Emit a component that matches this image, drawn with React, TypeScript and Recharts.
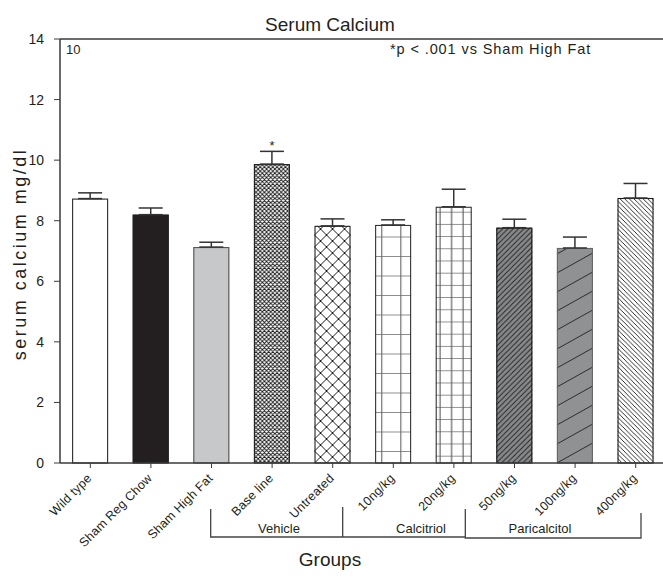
import React from "react";
import { BarChart, Bar, XAxis, YAxis, ErrorBar, ReferenceLine, ReferenceDot } from "recharts";

const categories = [
  "Wild type",
  "Sham Reg Chow",
  "Sham High Fat",
  "Base line",
  "Untreated",
  "10ng/kg",
  "20ng/kg",
  "50ng/kg",
  "100ng/kg",
  "400ng/kg",
];
const values = [8.73, 8.2, 7.13, 9.87, 7.83, 7.86, 8.46, 7.77, 7.1, 8.75];
const errors = [0.19, 0.22, 0.16, 0.42, 0.23, 0.17, 0.58, 0.28, 0.36, 0.48];
const marks = ["", "", "", "*", "", "", "", "", "", ""];
const yTicks = [0, 2, 4, 6, 8, 10, 12, 14];
const groupLabels = ["Vehicle", "Calcitriol", "Paricalcitol"];
const titleText = "Serum Calcium";
const yLabel = "serum calcium mg/dl";
const xLabel = "Groups";
const panelTag = "10";
const noteText = "*p < .001 vs Sham High Fat";

const data = categories.map((name, i) => ({
  name,
  value: values[i],
  err: [0, errors[i]],
  mark: marks[i],
}));

const FONT = "'Liberation Sans', Arial, Helvetica, sans-serif";
const INK = "#231f20";
const AXIS = "#3a3a3a";

type Style = {
  fill: string;
  stroke: string;
  kind: string;
  p?: number;
  w?: number;
  h?: number;
  lw?: number;
  color?: string;
  vx?: number[];
  hy?: number;
  hp?: number;
  vcolor?: string;
};

const barStyles: Style[] = [
  { fill: "#ffffff", stroke: "#2a2a2a", kind: "solid" },
  { fill: "#231f20", stroke: "#231f20", kind: "solid" },
  { fill: "#c7c8ca", stroke: "#555", kind: "solid" },
  { fill: "#ffffff", stroke: "#222", kind: "cross", p: 4.2, lw: 0.9, color: "#1a1a1a" },
  { fill: "#ffffff", stroke: "#222", kind: "cross", p: 12, lw: 1, color: "#1a1a1a" },
  { fill: "#ffffff", stroke: "#333", kind: "grid", vx: [0.185, 0.715], hy: 12, hp: 19.5, lw: 1.1, color: "#1a1a1a", vcolor: "#666" },
  { fill: "#ffffff", stroke: "#333", kind: "grid", vx: [0.12, 0.44, 0.76], hy: 7.3, hp: 12.2, lw: 1.1, color: "#1a1a1a", vcolor: "#555" },
  { fill: "#88898b", stroke: "#1a1a1a", kind: "fwd", w: 5.3, h: 5.3, lw: 0.9, color: "#1f1f1f" },
  { fill: "#909193", stroke: "#666", kind: "fwd", w: 34, h: 19, lw: 1, color: "#2a2a2a" },
  { fill: "#ffffff", stroke: "#1a1a1a", kind: "back", w: 4.6, h: 4.6, lw: 0.9, color: "#1a1a1a" },
];

const PatternBar = (props: any) => {
  const { x, y, width, height } = props;
  let idx = categories.indexOf(props.payload?.name ?? props.name);
  if (idx < 0) idx = props.index ?? 0;
  const s = barStyles[idx];
  const id = `barpat-${idx}`;
  const bottom = y + height;
  let pattern: any = null;
  if (s.kind === "cross") {
    const p = s.p!;
    pattern = (
      <pattern id={id} patternUnits="userSpaceOnUse" x={x} y={bottom} width={p} height={p}>
        <path
          d={`M0,0 L${p},${p} M0,${p} L${p},0 M${-p},${p} L${p},${-p} M0,${2 * p} L${2 * p},0 M${-p},0 L0,${p} M${p},0 L${2 * p},${p} M0,${-p} L${p},0 M0,${p} L${p},${2 * p}`}
          stroke={s.color}
          strokeWidth={s.lw}
          fill="none"
        />
      </pattern>
    );
  } else if (s.kind === "fwd") {
    const w = s.w!;
    const h = s.h!;
    pattern = (
      <pattern id={id} patternUnits="userSpaceOnUse" x={x} y={bottom} width={w} height={h}>
        <path
          d={`M0,${h} L${w},0 M${-w},${h} L${w},${-h} M0,${2 * h} L${2 * w},0`}
          stroke={s.color}
          strokeWidth={s.lw}
          fill="none"
        />
      </pattern>
    );
  } else if (s.kind === "back") {
    const w = s.w!;
    const h = s.h!;
    pattern = (
      <pattern id={id} patternUnits="userSpaceOnUse" x={x} y={bottom} width={w} height={h}>
        <path
          d={`M0,0 L${w},${h} M${-w},0 L${w},${2 * h} M0,${-h} L${2 * w},${h}`}
          stroke={s.color}
          strokeWidth={s.lw}
          fill="none"
        />
      </pattern>
    );
  } else if (s.kind === "grid") {
    const hp = s.hp!;
    pattern = (
      <pattern id={id} patternUnits="userSpaceOnUse" x={x} y={bottom - s.hy!} width={width} height={hp}>
        <line x1={0} y1={0} x2={width} y2={0} stroke={s.color} strokeWidth={s.lw} />
        {s.vx!.map((f, k) => (
          <line key={k} x1={width * f} y1={-1} x2={width * f} y2={hp + 1} stroke={s.vcolor} strokeWidth={s.lw} />
        ))}
      </pattern>
    );
  }
  if (!(height > 0)) return null;
  return (
    <g>
      {pattern && <defs>{pattern}</defs>}
      <rect x={x} y={y} width={width} height={height} fill={s.fill} />
      {pattern && <rect x={x} y={y} width={width} height={height} fill={`url(#${id})`} />}
      <rect x={x + 0.5} y={y + 0.5} width={width - 1} height={height - 0.5} fill="none" stroke={s.stroke} strokeWidth={1.1} />
    </g>
  );
};

const XTick = (props: any) => {
  const { x, y, payload } = props;
  const ax = x + 2;
  const ay = y + 9;
  return (
    <text
      x={ax}
      y={ay}
      textAnchor="end"
      transform={`rotate(-45, ${ax}, ${ay})`}
      fontFamily={FONT}
      fontSize={12.5}
      letterSpacing={0.2}
      fill={INK}
    >
      {payload.value}
    </text>
  );
};

const starIndex = marks.findIndex((m) => m !== "");

export default function App() {
  return (
    <div style={{ position: "absolute", left: 0, top: 0, width: 663, height: 588, overflow: "hidden", background: "#fff" }}>
      <BarChart
        width={670}
        height={588}
        data={data}
        margin={{ top: 39, right: 4, bottom: 25, left: 10 }}
        barCategoryGap="20%"
      >
        <XAxis
          dataKey="name"
          interval={0}
          height={100}
          tick={<XTick />}
          tickSize={5}
          axisLine={{ stroke: AXIS, strokeWidth: 1.5 }}
          tickLine={{ stroke: AXIS, strokeWidth: 1 }}
        />
        <YAxis
          width={50}
          domain={[0, 14]}
          ticks={yTicks}
          interval={0}
          tickSize={6}
          tickMargin={10}
          axisLine={{ stroke: AXIS, strokeWidth: 1.5 }}
          tickLine={{ stroke: AXIS, strokeWidth: 1 }}
          tick={{ fontFamily: FONT, fontSize: 14, fill: INK }}
        />
        <ReferenceLine y={14} stroke={AXIS} strokeWidth={1.5} />
        <Bar dataKey="value" isAnimationActive={false} shape={<PatternBar />}>
          <ErrorBar dataKey="err" width={12} stroke="#333" strokeWidth={1.5} direction="y" />
        </Bar>
        {starIndex >= 0 && (
          <ReferenceDot
            x={categories[starIndex]}
            y={values[starIndex] + errors[starIndex]}
            r={1}
            fill="none"
            stroke="none"
            label={{ value: marks[starIndex], position: "top", offset: 0, fontFamily: FONT, fontSize: 13, fill: INK }}
          />
        )}
      </BarChart>
      <svg
        width={663}
        height={588}
        style={{ position: "absolute", left: 0, top: 0, pointerEvents: "none" }}
        fontFamily={FONT}
      >
        <text x={330} y={31} textAnchor="middle" fontSize={19} fill={INK}>
          {titleText}
        </text>
        <text x={66} y={54} fontSize={13} fill={INK}>
          {panelTag}
        </text>
        <text x={390} y={54} fontSize={14.5} fill={INK} letterSpacing={0.9}>
          {noteText}
        </text>
        <text x={26} y={254} textAnchor="middle" fontSize={18} fill={INK} transform="rotate(-90, 26, 254)" letterSpacing={2.5}>
          {yLabel}
        </text>
        <text x={330} y={566} textAnchor="middle" fontSize={19} fill={INK}>
          {xLabel}
        </text>
        <g stroke="#444" strokeWidth={1.3} fill="none">
          <path d="M210.7,509 L210.7,537 L465.3,537 M342.7,507 L342.7,537 M465.3,509 L465.3,538 L641,538 L641,513" />
        </g>
        <text x={279} y={533} textAnchor="middle" fontSize={13} fill={INK}>
          {groupLabels[0]}
        </text>
        <text x={421} y={533} textAnchor="middle" fontSize={13} fill={INK}>
          {groupLabels[1]}
        </text>
        <text x={540} y={533} textAnchor="middle" fontSize={13} fill={INK}>
          {groupLabels[2]}
        </text>
      </svg>
    </div>
  );
}
